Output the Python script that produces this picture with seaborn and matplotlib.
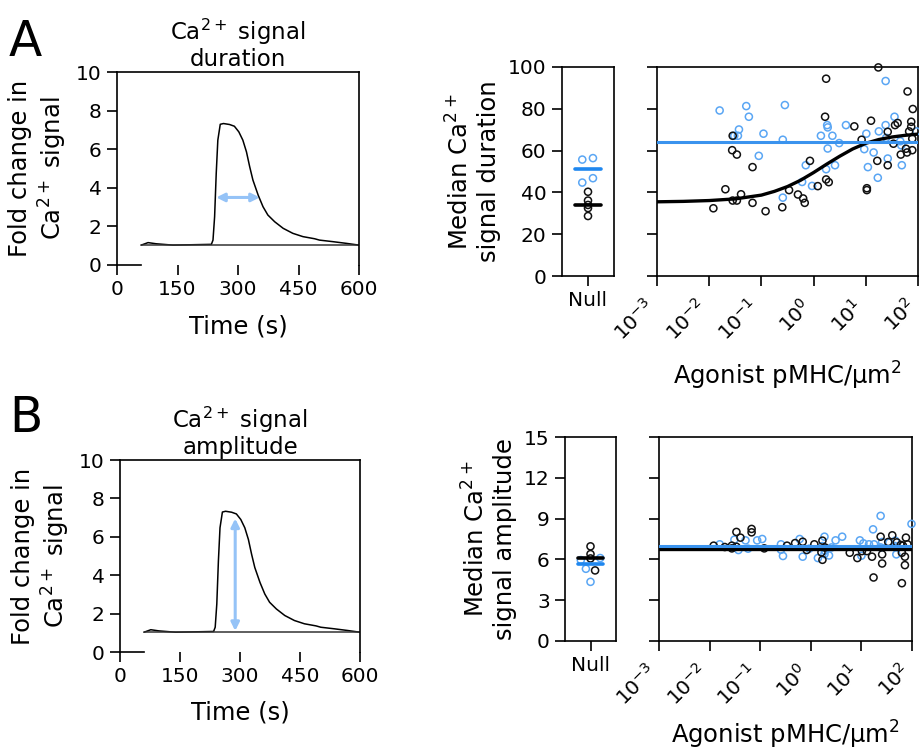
# Ca2+ signal duration / amplitude figure (panels A and B)
import numpy as np
import pandas as pd
import seaborn as sns
import matplotlib.pyplot as plt
import matplotlib.transforms as mtrans

# ---------------- data ----------------
# example Ca2+ trace (time in s, fold change)
trace_t = [60, 77, 97, 139, 234, 238, 242, 246, 250, 256, 264, 279, 291, 302, 312,
           321, 329, 337, 350, 362, 374, 391, 412, 436, 461, 490, 502, 535, 569, 600]
trace_y = [1.03, 1.16, 1.10, 1.03, 1.07, 1.29, 2.5, 4.74, 6.47, 7.29, 7.33, 7.28, 7.19, 6.9, 6.47,
           5.86, 5.09, 4.40, 3.62, 3.02, 2.59, 2.24, 1.90, 1.64, 1.47, 1.36, 1.29, 1.21, 1.12, 1.03]

# duration vs agonist density (log10 pMHC/um2)
dur_black_logx = [-1.92, -1.69, -1.55, -1.55, -1.47, -1.39, -1.56, -1.47, -1.17, -1.17, -0.92, -0.60,
                  -0.47, -0.30, -0.20, -0.17, -0.07, 0.08, 0.24, 0.29, 0.24, 0.22, 0.78, 0.92, 1.02,
                  1.02, 1.10, 1.22, 1.24, 1.42, 1.42, 1.53, 1.56, 1.61, 1.67, 1.77, 1.80, 1.79, 1.83,
                  1.87, 1.87, 1.90, 1.89, 1.89]
dur_black_y = [32.4, 41.5, 67.1, 36.1, 36.1, 39.1, 60.2, 58.1, 52.1, 35.0, 31.0, 32.9,
               41.1, 39.0, 37.1, 35.0, 55.1, 43.0, 46.2, 44.9, 94.4, 76.2, 71.6, 65.2, 42.0,
               41.1, 74.3, 55.1, 99.8, 69.0, 53.0, 63.3, 72.2, 73.2, 58.1, 60.9, 88.3, 59.1, 69.2,
               73.8, 71.4, 79.9, 65.7, 60.2]
dur_blue_logx = [-1.80, -1.52, -1.45, -1.43, -1.29, -1.24, -1.05, -0.96, -0.59, -0.55, -0.59, -0.22,
                 -0.15, -0.03, 0.14, 0.26, 0.27, 0.27, 0.24, 0.36, 0.41, 0.49, 0.62, 0.97, 1.01,
                 1.04, 1.15, 1.23, 1.25, 1.38, 1.38, 1.39, 1.42, 1.55, 1.66, 1.68, 1.69, 1.97]
dur_blue_y = [79.2, 67.1, 67.1, 70.1, 81.3, 76.2, 57.5, 68.1, 65.2, 81.8, 37.5, 45.0,
              53.0, 43.1, 67.1, 72.2, 71.1, 61.0, 51.1, 67.1, 53.0, 63.6, 72.2, 60.7, 68.1,
              52.1, 59.1, 47.0, 69.2, 93.3, 72.2, 66.1, 56.2, 76.2, 64.5, 62.5, 53.0, 69.2]
fit_logx = [-3, -2.5, -2, -1.5, -1, -0.75, -0.5, -0.25, 0, 0.25, 0.5, 0.75, 1.0, 1.25, 1.5, 1.75, 2.0]
fit_dur_black = [35.5, 35.7, 36.1, 36.9, 38.7, 40.5, 42.8, 45.8, 49.5, 53.5, 57.3, 60.8, 63.5,
                 65.3, 66.5, 67.3, 67.9]
dur_blue_level = 64.0

# amplitude vs agonist density
amp_black_logx = [-1.92, -1.70, -1.56, -1.56, -1.47, -1.39, -1.47, -1.17, -1.17, -0.92, -0.47, -0.31,
                  -0.16, -0.08, 0.07, 0.23, 0.21, 0.23, 0.28, 0.77, 0.92, 1.01, 1.11, 1.21, 1.24,
                  1.38, 1.41, 1.41, 1.53, 1.61, 1.70, 1.78, 1.80, 1.80, 1.82, 1.86, 1.86, 1.88, 1.91]
amp_black_y = [7.01, 6.91, 7.01, 6.81, 8.02, 7.60, 6.93, 8.24, 7.99, 6.81, 7.01, 7.20,
               7.30, 6.69, 7.11, 7.38, 6.52, 5.97, 6.88, 6.49, 6.10, 6.61, 6.61, 6.20, 4.67,
               7.67, 6.37, 5.70, 7.28, 7.77, 7.25, 7.06, 6.49, 4.25, 7.01, 6.20, 5.58, 7.60, 7.11]
amp_blue_logx = [-1.80, -1.51, -1.43, -1.29, -1.24, -1.06, -0.96, -0.59, -0.59, -0.55, -0.22, -0.16,
                 -0.03, 0.14, 0.23, 0.27, 0.28, 0.27, 0.36, 0.41, 0.49, 0.62, 0.97, 1.00, 1.04,
                 1.15, 1.25, 1.23, 1.38, 1.38, 1.41, 1.55, 1.67, 1.66, 1.69, 1.99]
amp_blue_y = [7.11, 7.45, 6.69, 7.40, 6.79, 7.40, 7.50, 7.11, 6.71, 6.25, 7.50, 6.20,
              6.79, 6.10, 6.98, 7.67, 6.64, 6.39, 6.29, 6.88, 7.40, 7.67, 7.40, 6.27, 7.18,
              7.11, 7.11, 8.21, 9.20, 6.88, 7.28, 7.23, 7.38, 6.98, 6.37, 8.61]
amp_black_level = 6.8
amp_blue_level = 7.0

# null (no agonist) conditions
null_dur_black = [40.3, 36.1, 34.0, 32.5, 28.7]
null_dur_black_pos = [0, 0, 0, 0, 0]
null_dur_blue = [55.7, 56.4, 44.7, 46.8]
null_dur_blue_pos = [-0.22, 0.19, -0.22, 0.19]
null_dur_black_med = 34.1
null_dur_blue_med = 51.3

null_amp_black = [6.96, 6.39, 6.07, 5.19]
null_amp_black_pos = [0, 0, 0, 0.18]
null_amp_blue = [5.95, 6.10, 5.31, 4.35]
null_amp_blue_pos = [-0.38, 0.38, -0.18, 0]
null_amp_black_med = 6.10
null_amp_blue_med = 5.63

log_ticks = [-3, -2, -1, 0, 1, 2]
log_labels = ['10$^{-3}$', '10$^{-2}$', '10$^{-1}$', '10$^{0}$', '10$^{1}$', '10$^{2}$']

BLACK = '#111111'
BLUE_PT = '#5aa6f4'
BLUE_LN = '#3a93ee'
ARROW = '#95c3f7'

sns.set_style('ticks')
plt.rcParams['font.family'] = ['DejaVu Sans']
plt.rcParams['mathtext.default'] = 'regular'
for key in ['text.color', 'axes.labelcolor', 'xtick.color', 'ytick.color']:
    plt.rcParams[key] = 'black'

fig = plt.figure(figsize=(9.19, 7.49), dpi=100)
W, H = 919, 749
TICK_FS = 14.5
LABEL_FS = 17.5


def rect(l, t, r, b):
    return [l / W, 1 - b / H, (r - l) / W, (b - t) / H]


def style_axes(ax):
    for s in ax.spines.values():
        s.set_linewidth(1.2)
        s.set_color('black')
    ax.tick_params(length=7, width=1.2, labelsize=TICK_FS, color='black', pad=4)


def trace_panel(ax, title, arrow):
    df = pd.DataFrame({'t': trace_t, 'y': trace_y})
    sns.lineplot(data=df, x='t', y='y', ax=ax, color='black', lw=1.1)
    ax.plot([trace_t[0], trace_t[-1]], [trace_y[0], trace_y[-1]], color='#333333', lw=1.1)
    ax.annotate('', xy=arrow[1], xytext=arrow[0],
                arrowprops=dict(arrowstyle='<|-|>', color=ARROW, lw=2.2,
                                mutation_scale=12, shrinkA=0, shrinkB=0))
    ax.set_xlim(0, 600)
    ax.set_ylim(0, 10)
    ax.set_xticks([0, 150, 300, 450, 600])
    ax.set_yticks([0, 2, 4, 6, 8, 10])
    style_axes(ax)
    ax.spines['bottom'].set_bounds(0, 60)
    ax.set_xlabel('Time (s)', fontsize=LABEL_FS, va='top')
    ax.xaxis.set_label_coords(0.5, -0.255)
    ax.set_ylabel('Fold change in\nCa$^{2+}$ signal', fontsize=LABEL_FS, labelpad=5)
    ax.set_title(title, fontsize=16.5, pad=4, linespacing=1.1)


def null_panel(ax, ylim, yticks, black, bpos, blue, upos, bmed, umed, ylabel):
    sns.scatterplot(x=bpos, y=black, ax=ax, marker='o', s=26, facecolor='none',
                    edgecolor=BLACK, linewidth=1.1, zorder=3)
    sns.scatterplot(x=upos, y=blue, ax=ax, marker='o', s=26, facecolor='none',
                    edgecolor=BLUE_PT, linewidth=1.1, zorder=3)
    ax.plot([-0.5, 0.5], [umed, umed], color='#1f87ef', lw=2.6, zorder=4)
    ax.plot([-0.5, 0.5], [bmed, bmed], color='black', lw=2.6, zorder=4)
    ax.set_xlim(-1, 1)
    ax.set_ylim(*ylim)
    ax.set_yticks(yticks)
    ax.set_xticks([0])
    ax.set_xticklabels(['Null'])
    style_axes(ax)
    ax.set_ylabel(ylabel, fontsize=LABEL_FS, labelpad=5)


def main_panel(ax, ylim, yticks, bx, by, ux, uy, blue_level, black_x, black_y, label_y):
    sns.scatterplot(x=10.0 ** np.array(ux, dtype=float), y=uy, ax=ax, marker='o', s=26,
                    facecolor='none', edgecolor=BLUE_PT, linewidth=1.1, zorder=3, clip_on=False)
    sns.scatterplot(x=10.0 ** np.array(bx, dtype=float), y=by, ax=ax, marker='o', s=26,
                    facecolor='none', edgecolor=BLACK, linewidth=1.1, zorder=3, clip_on=False)
    ax.set_xscale('log')
    sns.lineplot(x=10.0 ** np.array(black_x, dtype=float), y=black_y, ax=ax, color='black',
                 lw=2.4, zorder=4)
    ax.axhline(blue_level, color=BLUE_LN, lw=2.2, zorder=4)
    ax.set_xlim(1e-3, 1e2)
    ax.set_ylim(*ylim)
    ax.set_yticks(yticks)
    ax.set_yticklabels([])
    ticks = 10.0 ** np.array(log_ticks, dtype=float)
    ax.set_xticks(ticks)
    ax.set_xticklabels([])
    ax.xaxis.set_minor_locator(plt.NullLocator())
    style_axes(ax)
    # rotated decade labels, placed by hand so the last one stays inside the figure
    trans = ax.get_xaxis_transform() + mtrans.ScaledTranslation(-0.06, -0.27, fig.dpi_scale_trans)
    for t, lab in zip(ticks, log_labels):
        ax.text(t, 0, lab, transform=trans, rotation=45, rotation_mode='anchor',
                ha='right', va='center', fontsize=TICK_FS)
    ax.set_xlabel('Agonist pMHC/μm$^{2}$', fontsize=LABEL_FS, va='top')
    ax.xaxis.set_label_coords(0.5, label_y)
    ax.set_ylabel('')


# ---- panel A ----
axA = fig.add_axes(rect(117, 72, 359, 265))
trace_panel(axA, 'Ca$^{2+}$ signal\nduration', ((246, 3.5), (354, 3.5)))

axAn = fig.add_axes(rect(562, 67, 614, 276))
null_panel(axAn, (0, 100), [0, 20, 40, 60, 80, 100], null_dur_black, null_dur_black_pos,
           null_dur_blue, null_dur_blue_pos, null_dur_black_med, null_dur_blue_med,
           'Median Ca$^{2+}$\nsignal duration')

axAm = fig.add_axes(rect(657, 67, 918, 276))
main_panel(axAm, (0, 100), [0, 20, 40, 60, 80, 100], dur_black_logx, dur_black_y,
           dur_blue_logx, dur_blue_y, dur_blue_level, fit_logx, fit_dur_black, -0.40)

# ---- panel B ----
axB = fig.add_axes(rect(120, 460, 360, 652))
trace_panel(axB, 'Ca$^{2+}$ signal\namplitude', ((288, 1.1), (288, 6.95)))

axBn = fig.add_axes(rect(565, 437, 616, 641))
null_panel(axBn, (0, 15), [0, 3, 6, 9, 12, 15], null_amp_black, null_amp_black_pos,
           null_amp_blue, null_amp_blue_pos, null_amp_black_med, null_amp_blue_med,
           'Median Ca$^{2+}$\nsignal amplitude')

axBm = fig.add_axes(rect(659, 437, 912, 641))
main_panel(axBm, (0, 15), [0, 3, 6, 9, 12, 15], amp_black_logx, amp_black_y,
           amp_blue_logx, amp_blue_y, amp_blue_level,
           [-3, 2], [amp_black_level, amp_black_level], -0.38)

fig.text(9 / W, 1 - 56 / H, 'A', fontsize=35)
fig.text(9 / W, 1 - 432 / H, 'B', fontsize=35)

fig.savefig('out.png', dpi=100)
